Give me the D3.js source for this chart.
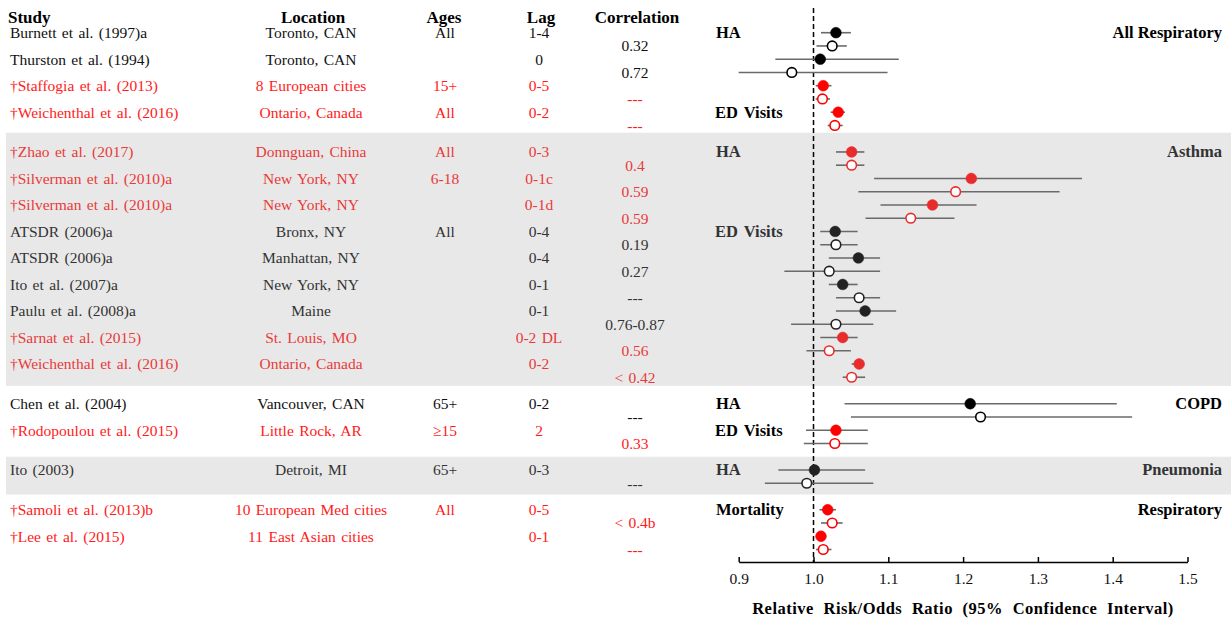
<!DOCTYPE html>
<html>
<head>
<meta charset="utf-8">
<script src="https://cdn.jsdelivr.net/npm/d3@7"></script>
<style>
  body { margin: 0; background: #fff; }
  svg { display: block; }
  text { font-family: "Liberation Serif", "Times New Roman", serif; }
</style>
</head>
<body>
<svg id="chart" width="1231" height="620"></svg>
<script>
// ---------- DATA ----------
const studies = ["Burnett et al. (1997)a","Thurston et al. (1994)","†Staffogia et al. (2013)","†Weichenthal et al. (2016)",
  "†Zhao et al. (2017)","†Silverman et al. (2010)a","†Silverman et al. (2010)a","ATSDR (2006)a","ATSDR (2006)a",
  "Ito et al. (2007)a","Paulu et al. (2008)a","†Sarnat et al. (2015)","†Weichenthal et al. (2016)",
  "Chen et al. (2004)","†Rodopoulou et al. (2015)","Ito (2003)","†Samoli et al. (2013)b","†Lee et al. (2015)"];
const locations = ["Toronto, CAN","Toronto, CAN","8 European cities","Ontario, Canada","Donnguan, China","New York, NY",
  "New York, NY","Bronx, NY","Manhattan, NY","New York, NY","Maine","St. Louis, MO","Ontario, Canada",
  "Vancouver,  CAN","Little Rock, AR","Detroit, MI","10 European Med cities","11 East Asian cities"];
const ages = ["All","","15+","All","All","6-18","","All","","","","","","65+","≥15","65+","All",""];
const lags = ["1-4","0","0-5","0-2","0-3","0-1c","0-1d","0-4","0-4","0-1","0-1","0-2 DL","0-2","0-2","2","0-3","0-5","0-1"];
const correlations = ["0.32","0.72","---","---","0.4","0.59","0.59","0.19","0.27","---","0.76-0.87","0.56","< 0.42",
  "---","0.33","---","< 0.4b","---"];
// highlighted (†) studies drawn in red
const highlighted = [false,false,true,true,true,true,true,false,false,false,false,true,true,false,true,false,true,true];
// row slot of each study (first of its two estimate rows)
const studySlots = [0,2,4,6,9,11,13,15,17,19,21,23,25,28,30,33,36,38];

// estimates: filled marker (first row) and open marker (second row)
const filledEst = [1.030,1.009,1.013,1.033,1.051,1.211,1.159,1.029,1.060,1.039,1.069,1.039,1.061,1.2095,1.030,1.0013,1.019,1.010];
const filledLo  = [1.010,0.949,1.003,1.023,1.030,1.081,1.0896,1.009,1.0205,1.0205,1.030,1.009,1.051,1.0415,0.990,0.953,1.008,1.006];
const filledHi  = [1.050,1.114,1.024,1.042,1.068,1.359,1.218,1.059,1.089,1.059,1.1105,1.059,1.068,1.4055,1.0726,1.069,1.030,1.014];
const openEst   = [1.025,0.971,1.012,1.0285,1.051,1.190,1.130,1.030,1.021,1.061,1.030,1.021,1.051,1.2233,1.0285,0.991,1.025,1.013];
const openLo    = [1.004,0.900,1.003,1.019,1.030,1.060,1.0695,1.009,0.961,1.030,0.970,0.9906,1.039,1.050,0.987,0.935,1.010,1.0035];
const openHi    = [1.0445,1.099,1.022,1.039,1.068,1.329,1.1885,1.059,1.089,1.089,1.080,1.050,1.069,1.426,1.0726,1.080,1.039,1.024];

const outcomeLabels = ["HA","ED Visits","HA","ED Visits","HA","ED Visits","HA","Mortality"];
const outcomeSlots  = [0,6,9,15,28,30,33,36];
const categoryLabels = ["All Respiratory","Asthma","COPD","Pneumonia","Respiratory"];
const categorySlots  = [0,9,28,33,36];
// shaded bands (in slot units)
const bandStart = [7.55, 32.0];
const bandEnd   = [26.65, 34.85];

const headers = ["Study","Location","Ages","Lag","Correlation"];
const xTicks = [0.9,1.0,1.1,1.2,1.3,1.4,1.5];

// ---------- LAYOUT ----------
const svg = d3.select("#chart");
const y = d3.scaleLinear().domain([0, 39]).range([32.7, 549.5]);
const x = d3.scaleLinear().domain([0.9, 1.5]).range([738.7, 1187.5]);
const colX = {study: 10, loc: 311, ages: 445, lag: 539, corr: 635};
const headerX = [8, 313, 444, 541, 637];
const axisY = 562;
const bodySize = 15.5;

function inBand(slot) {
  return bandStart.some((s, i) => slot >= s && slot <= bandEnd[i]);
}
function textColor(red, slot) {
  const b = inBand(slot);
  if (red) return b ? "#e83a3a" : "#ff1a1a";
  return b ? "#333" : "#111";
}
function markColor(red, slot) {
  const b = inBand(slot);
  if (red) return b ? "#e82c2c" : "#ff0000";
  return b ? "#222" : "#000";
}

// bands
svg.selectAll("rect.band").data(bandStart).enter().append("rect")
  .attr("class", "band")
  .attr("x", 6).attr("width", 1231 - 6)
  .attr("y", (d) => y(d)).attr("height", (d, i) => y(bandEnd[i]) - y(d))
  .attr("fill", "#e8e8e8");

// headers
svg.selectAll("text.hdr").data(headers).enter().append("text")
  .attr("class", "hdr")
  .attr("x", (d, i) => headerX[i]).attr("y", 17)
  .attr("dominant-baseline", "central")
  .attr("text-anchor", (d, i) => i === 0 ? "start" : "middle")
  .attr("font-size", 17).attr("font-weight", "bold").attr("fill", "#000")
  .text(d => d);

// table columns
const rows = studies.map((s, i) => ({i, slot: studySlots[i], red: highlighted[i]}));
function col(cls, arr, xPos, anchor, slotOffset) {
  svg.selectAll("text." + cls).data(rows).enter().append("text")
    .attr("class", cls)
    .attr("x", xPos).attr("y", d => y(d.slot + slotOffset))
    .attr("dominant-baseline", "central")
    .attr("text-anchor", anchor)
    .attr("font-size", bodySize).attr("word-spacing", 1.5)
    .attr("fill", d => textColor(d.red, d.slot + slotOffset))
    .text(d => arr[d.i]);
}
col("study", studies, colX.study, "start", 0);
col("loc", locations, colX.loc, "middle", 0);
col("ages", ages, colX.ages, "middle", 0);
col("lag", lags, colX.lag, "middle", 0);
col("corr", correlations, colX.corr, "middle", 1);

// outcome labels
svg.selectAll("text.outcome").data(outcomeLabels).enter().append("text")
  .attr("class", "outcome")
  .attr("x", (d) => d === "ED Visits" ? 715 : 716)
  .attr("y", (d, i) => y(outcomeSlots[i]))
  .attr("dominant-baseline", "central")
  .attr("font-size", 16.5).attr("font-weight", "bold").attr("word-spacing", 2)
  .attr("fill", (d, i) => inBand(outcomeSlots[i]) ? "#333" : "#000")
  .text(d => d);

// category labels
svg.selectAll("text.cat").data(categoryLabels).enter().append("text")
  .attr("class", "cat")
  .attr("x", 1222)
  .attr("y", (d, i) => y(categorySlots[i]))
  .attr("dominant-baseline", "central")
  .attr("text-anchor", "end")
  .attr("font-size", 16.5).attr("font-weight", "bold")
  .attr("fill", (d, i) => inBand(categorySlots[i]) ? "#333" : "#000")
  .text(d => d);

// reference line at 1.0
svg.append("line")
  .attr("x1", x(1.0)).attr("x2", x(1.0))
  .attr("y1", 8).attr("y2", axisY)
  .attr("stroke", "#000").attr("stroke-width", 1.5)
  .attr("stroke-dasharray", "5,3");

// estimates
const ests = [];
rows.forEach(r => {
  ests.push({slot: r.slot, red: r.red, est: filledEst[r.i], lo: filledLo[r.i], hi: filledHi[r.i], open: false});
  ests.push({slot: r.slot + 1, red: r.red, est: openEst[r.i], lo: openLo[r.i], hi: openHi[r.i], open: true});
});
svg.selectAll("line.ci").data(ests).enter().append("line")
  .attr("class", "ci")
  .attr("x1", d => x(d.lo)).attr("x2", d => x(d.hi))
  .attr("y1", d => y(d.slot)).attr("y2", d => y(d.slot))
  .attr("stroke", "#6a6a6a").attr("stroke-width", 1.6);
svg.selectAll("circle.pt").data(ests).enter().append("circle")
  .attr("class", "pt")
  .attr("cx", d => x(d.est)).attr("cy", d => y(d.slot))
  .attr("r", d => d.open ? 4.8 : 5.4)
  .attr("fill", d => d.open ? "#fff" : markColor(d.red, d.slot))
  .attr("stroke", d => markColor(d.red, d.slot))
  .attr("stroke-width", d => d.open ? 1.6 : 0.5);

// axis
const axis = d3.axisBottom(x).tickValues(xTicks).tickFormat(d3.format(".1f"))
  .tickSizeInner(-5).tickSizeOuter(0).tickPadding(11);
const ag = svg.append("g").attr("transform", `translate(0,${axisY})`).call(axis);
ag.select(".domain").attr("stroke", "#000").attr("stroke-width", 1.5);
ag.selectAll(".tick line").attr("stroke", "#000").attr("stroke-width", 1.5);
ag.selectAll(".tick text").attr("font-family", "Liberation Serif, serif").attr("font-size", 15.5).attr("fill", "#111");

svg.append("text")
  .attr("x", 963).attr("y", 608)
  .attr("dominant-baseline", "central").attr("text-anchor", "middle")
  .attr("font-size", 16.5).attr("font-weight", "bold")
  .attr("word-spacing", 5).attr("letter-spacing", 0.5)
  .attr("fill", "#000")
  .text("Relative Risk/Odds Ratio (95% Confidence Interval)");
</script>
</body>
</html>
